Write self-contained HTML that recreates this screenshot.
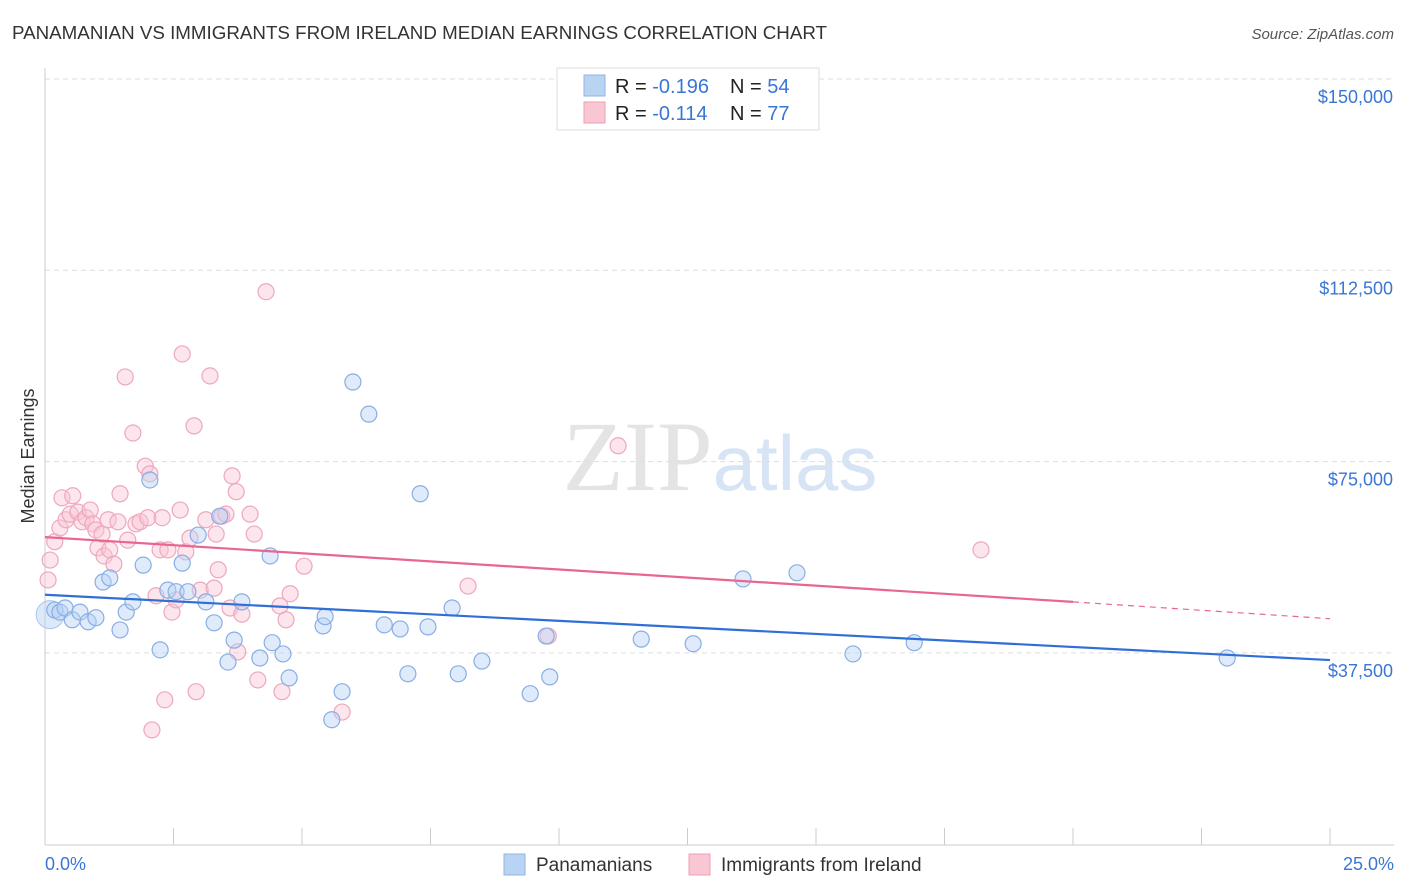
<!DOCTYPE html>
<html><head><meta charset="utf-8"><style>
body{margin:0;background:#fff;font-family:"Liberation Sans",sans-serif;}
svg{display:block}
</style></head><body>
<svg id="chart" width="1406" height="892" xmlns="http://www.w3.org/2000/svg" font-family="Liberation Sans, sans-serif">
<text x="12" y="39" font-size="18" fill="#333" textLength="815" lengthAdjust="spacingAndGlyphs">PANAMANIAN VS IMMIGRANTS FROM IRELAND MEDIAN EARNINGS CORRELATION CHART</text>
<text x="1394" y="39" font-size="15" fill="#555" text-anchor="end" font-style="italic">Source: ZipAtlas.com</text>
<text x="720" y="490" font-size="100" text-anchor="middle" fill="#e4e4e4" font-family="Liberation Serif, serif">ZIP<tspan fill="#d6e4f5" font-family="Liberation Sans, sans-serif" font-size="78">atlas</tspan></text>
<g id="grid"></g>
<g id="axes"></g>
<g id="marks"></g>
<g id="trends"></g>
<text transform="translate(34,456) rotate(-90)" font-size="18" fill="#333" text-anchor="middle">Median Earnings</text>
<text x="45" y="870" font-size="18" fill="#3a76d6">0.0%</text>
<text x="1394" y="870" font-size="18" fill="#3a76d6" text-anchor="end">25.0%</text>
<g>
<rect x="557" y="68" width="262" height="62" fill="#fff" stroke="#ddd"/>
<rect x="584" y="75" width="21" height="21" fill="#b9d3f3" stroke="#8fb4e6"/>
<rect x="584" y="102" width="21" height="21" fill="#f9c6d4" stroke="#ee9fb6"/>
<text x="615" y="93" font-size="20" fill="#222">R = <tspan fill="#3a76d6">-0.196</tspan><tspan x="730">N = </tspan><tspan fill="#3a76d6">54</tspan></text>
<text x="615" y="120" font-size="20" fill="#222">R = <tspan fill="#3a76d6"> -0.114</tspan><tspan x="730">N = </tspan><tspan fill="#3a76d6">77</tspan></text>
</g>
<g>
<rect x="504" y="854" width="21" height="21" fill="#b9d3f3" stroke="#8fb4e6"/>
<text x="536" y="871" font-size="19" fill="#333">Panamanians</text>
<rect x="689" y="854" width="21" height="21" fill="#f9c6d4" stroke="#ee9fb6"/>
<text x="721" y="871" font-size="19" fill="#333">Immigrants from Ireland</text>
</g>
</svg>
<script>
const yTicks=[150000,112500,75000,37500];
const yTickLabels=["$150,000","$112,500","$75,000","$37,500"];
const xTicks=[0,2.5,5,7.5,10,12.5,15,17.5,20,22.5,25];
const blueX=[0.19,0.29,0.39,0.53,0.68,0.84,0.99,1.13,1.26,1.46,1.58,1.71,1.91,2.04,2.24,2.39,2.55,2.67,2.78,2.98,3.13,3.29,3.40,3.56,3.68,3.83,4.18,4.38,4.42,4.63,4.75,5.41,5.45,5.78,5.58,5.99,6.30,6.60,6.91,7.06,7.30,7.45,7.92,8.04,8.50,9.44,9.75,9.82,11.60,12.61,13.58,14.63,15.72,16.91,23.00];
const blueY=[45.9,45.5,46.3,44.0,45.5,43.6,44.4,51.4,52.2,42.0,45.5,47.5,54.7,71.4,38.1,49.8,49.5,55.1,49.5,60.6,47.5,43.4,64.3,35.7,40.0,47.5,36.5,56.5,39.5,37.3,32.6,42.8,44.6,29.9,24.4,90.6,84.3,43.0,42.2,33.4,68.7,42.6,46.3,33.4,35.9,29.5,40.8,32.8,40.2,39.3,52.0,53.2,37.3,39.5,36.5];
const pinkX=[0.06,0.10,0.19,0.29,0.33,0.41,0.49,0.54,0.64,0.72,0.80,0.88,0.93,0.99,1.03,1.11,1.15,1.23,1.26,1.34,1.42,1.46,1.56,1.61,1.71,1.77,1.85,1.95,2.00,2.04,2.08,2.16,2.24,2.28,2.33,2.39,2.47,2.55,2.63,2.67,2.74,2.82,2.90,2.94,3.02,3.13,3.21,3.29,3.33,3.37,3.44,3.52,3.60,3.64,3.72,3.75,3.83,3.99,4.07,4.14,4.30,4.57,4.61,4.69,4.77,5.04,5.78,8.23,9.79,11.15,18.21];
const pinkY=[51.8,55.7,59.3,62.0,67.9,63.6,64.7,68.3,65.1,63.2,64.0,65.5,62.8,61.6,58.1,60.8,56.5,63.6,57.7,54.9,63.2,68.7,91.6,59.6,80.6,62.8,63.2,74.1,64.0,72.6,22.4,48.7,57.7,64.0,28.3,57.7,45.5,47.9,65.5,96.1,57.3,60.0,82.0,29.9,49.8,63.6,91.8,50.2,60.8,53.8,64.3,64.7,46.3,72.2,69.1,37.7,45.1,64.7,60.8,32.2,108.3,46.7,29.9,44.0,49.1,54.5,25.9,50.6,40.8,78.1,57.7];
const blueTrend=[48.9,36.1];
const pinkTrend=[60.2,47.5,44.2];
const NS="http://www.w3.org/2000/svg";
const X=v=>45+v*51.4;
const Y=v=>79+(150-v)*191.3/37.5;
function mk(t,a,p){const e=document.createElementNS(NS,t);for(const k in a)e.setAttribute(k,a[k]);document.getElementById(p).appendChild(e);return e;}
yTicks.forEach((t,i)=>{
 const l=mk('line',{x1:45,x2:1394,y1:Y(t/1000),y2:Y(t/1000),stroke:'#ddd','stroke-dasharray':'5,4'},'grid');
 
 
 const tx=mk('text',{x:1393,y:Y(t/1000)+24,'font-size':18,fill:'#3a76d6','text-anchor':'end'},'axes');
 tx.textContent=yTickLabels[i];
 
 
});
const ax=mk('line',{x1:45,x2:45,y1:68,y2:845,stroke:'#ccc'},'axes');


const bx=mk('line',{x1:45,x2:1394,y1:845,y2:845,stroke:'#ccc'},'axes');


xTicks.forEach(t=>{
 const l=mk('line',{x1:X(t),x2:X(t),y1:828,y2:845,stroke:'#ccc'},'axes');
 
 
});
const big=mk('circle',{cx:X(0.1),cy:Y(45),r:14,fill:'rgba(185,211,243,0.5)',stroke:'#a9c6ee'},'marks');


pinkX.forEach((v,i)=>{
 const c=mk('circle',{cx:X(v),cy:Y(pinkY[i]),r:8,fill:'rgba(249,198,212,0.45)',stroke:'#eea7bd','stroke-width':1.2},'marks');
 
 
});
blueX.forEach((v,i)=>{
 const c=mk('circle',{cx:X(v),cy:Y(blueY[i]),r:8,fill:'rgba(185,211,243,0.45)',stroke:'#88aee4','stroke-width':1.2},'marks');
 
 
});
const bt=mk('line',{x1:X(0),y1:Y(blueTrend[0]),x2:X(25),y2:Y(blueTrend[1]),stroke:'#2f6fd6','stroke-width':2.2},'trends');


const pt=mk('line',{x1:X(0),y1:Y(pinkTrend[0]),x2:X(20),y2:Y(pinkTrend[1]),stroke:'#e8678f','stroke-width':2.2},'trends');


const pd=mk('line',{x1:X(20),y1:Y(pinkTrend[1]),x2:X(25),y2:Y(pinkTrend[2]),stroke:'#e8678f','stroke-width':1.2,'stroke-dasharray':'6,5'},'trends');


</script>
</body></html>
